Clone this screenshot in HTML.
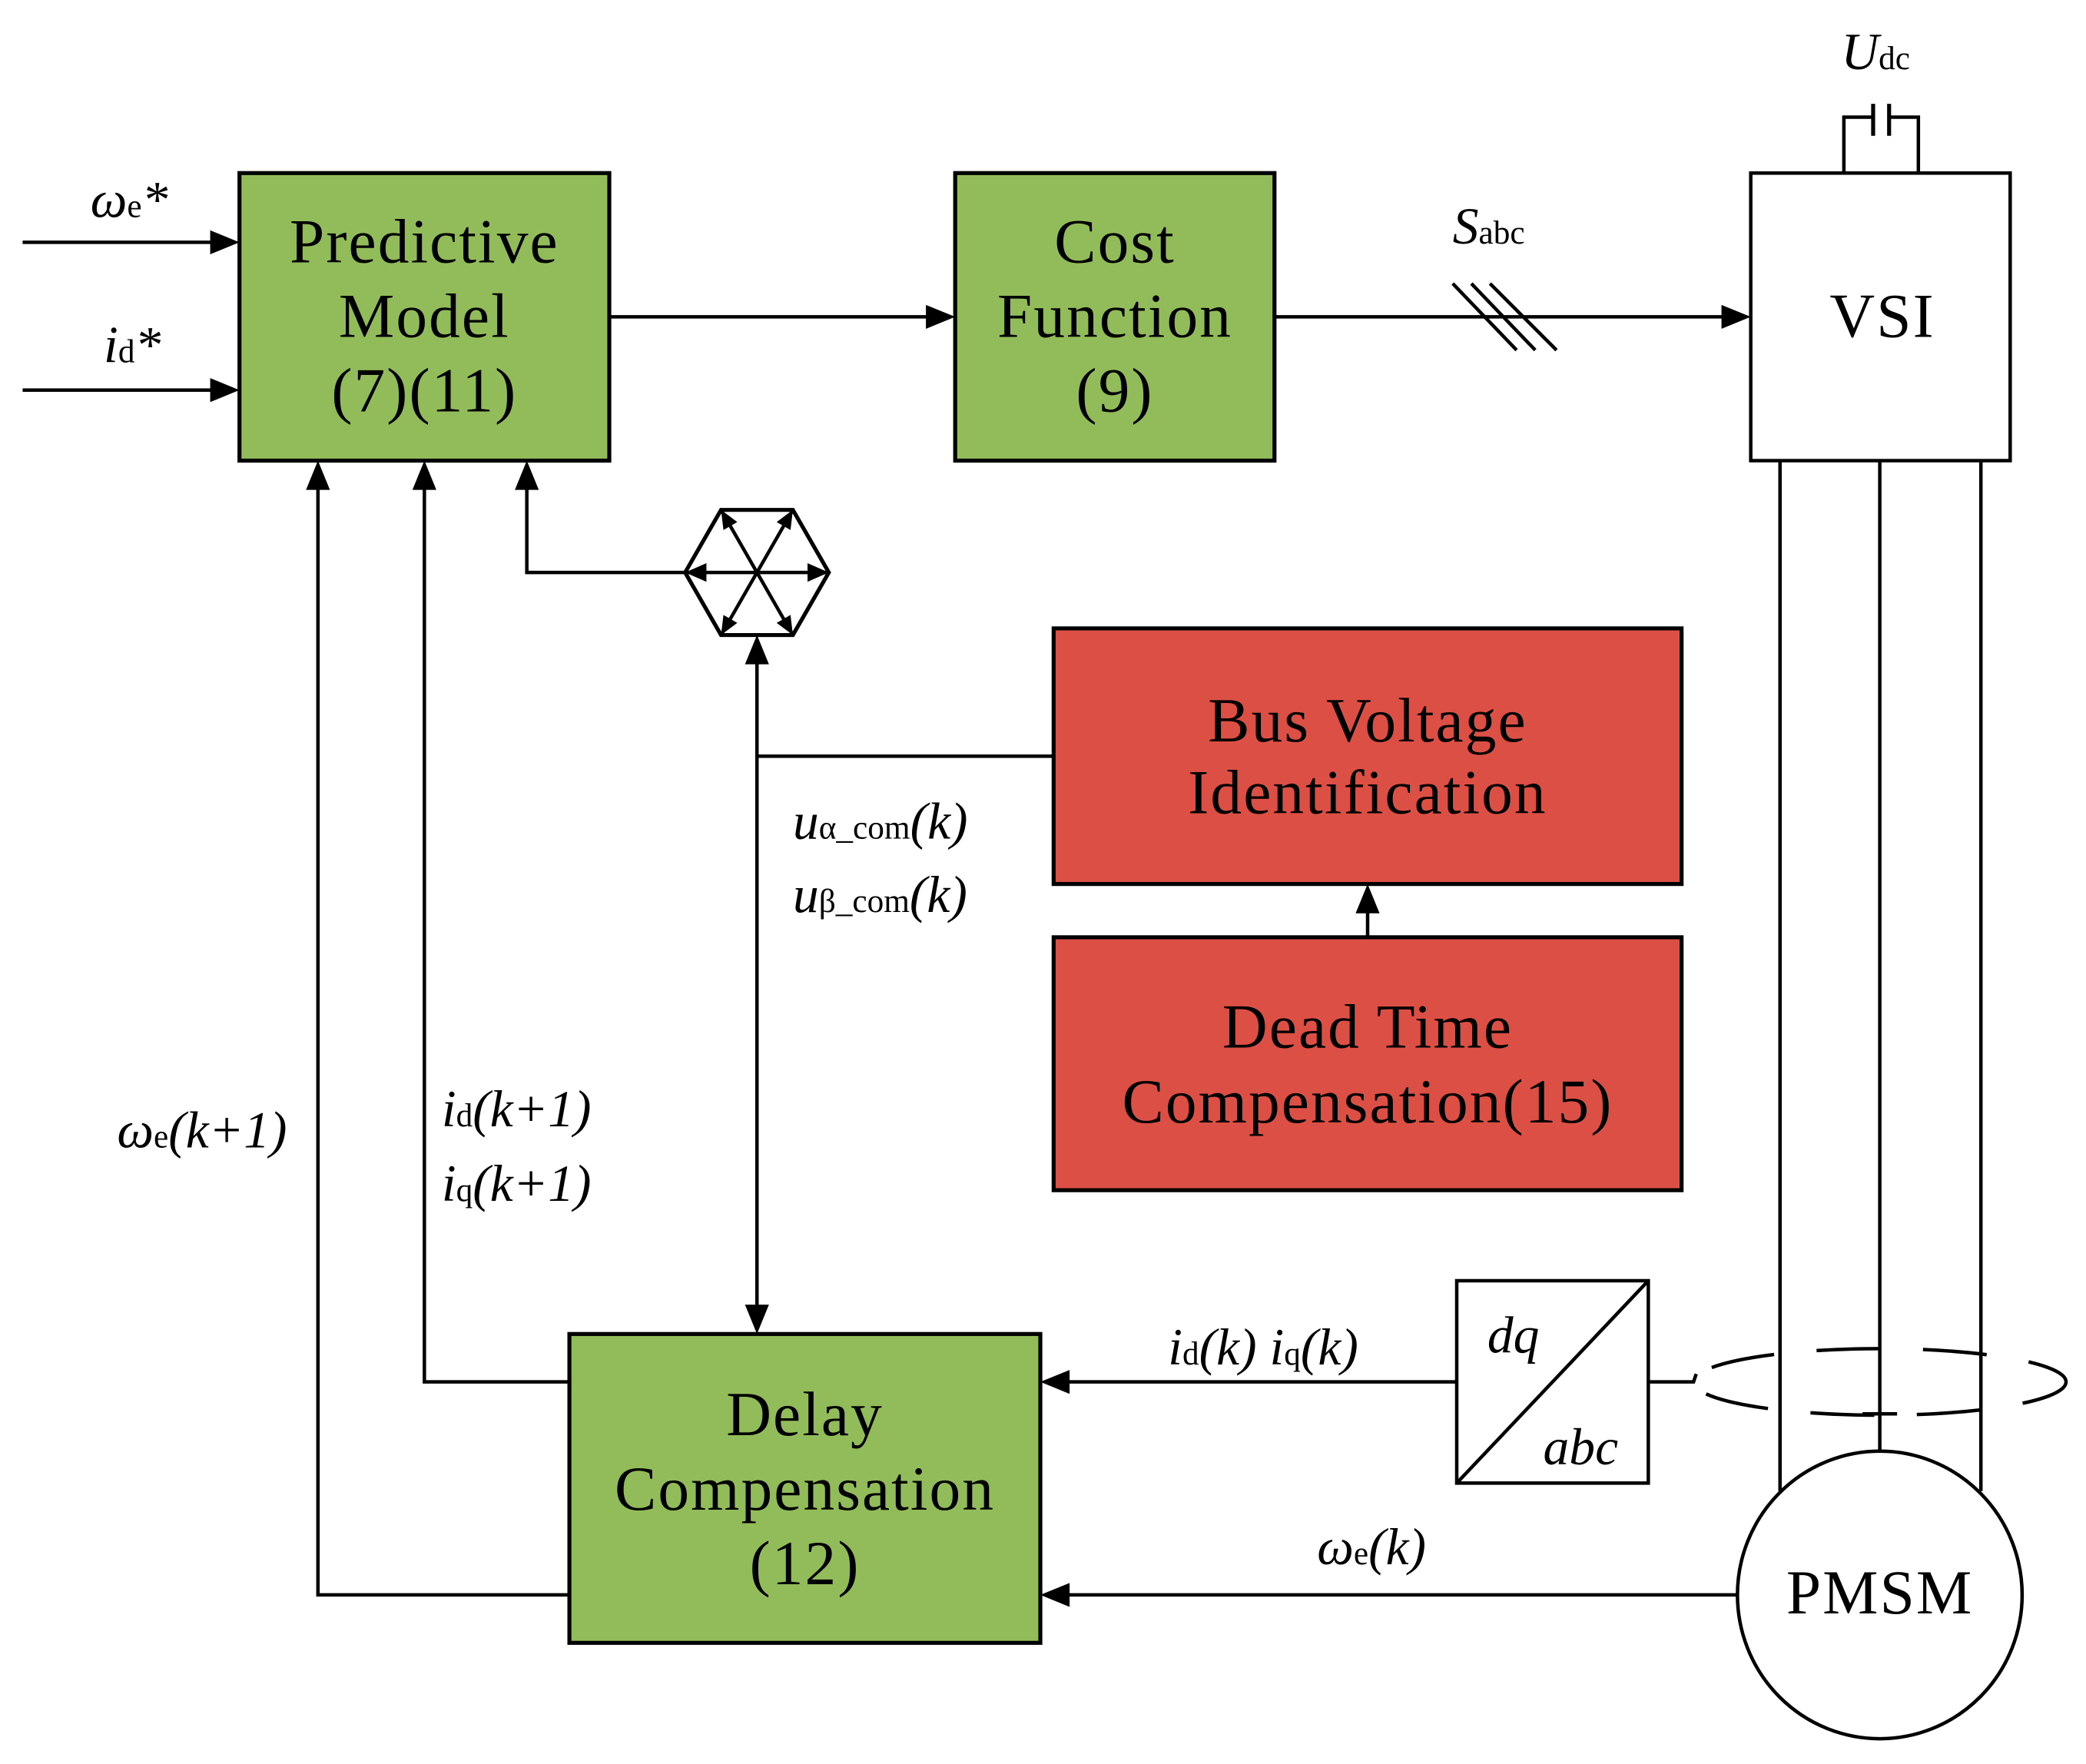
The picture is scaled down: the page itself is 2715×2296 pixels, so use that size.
<!DOCTYPE html>
<html><head><meta charset="utf-8"><style>
html,body{margin:0;padding:0;background:#fff;}
svg{display:block}
text{font-family:"Liberation Serif",serif;fill:#000}
.b{font-size:47px;text-anchor:middle;letter-spacing:1.2px}
.i{font-style:italic;font-size:39px}
.s{font-size:25px;font-style:normal}
</style></head><body>
<svg width="2715" height="2296" viewBox="0 0 1568 1325" preserveAspectRatio="none" xmlns="http://www.w3.org/2000/svg">
<g stroke="#000" stroke-width="2.6" fill="none">
<rect x="180" y="130" width="278" height="216" fill="#92bb5a" stroke-width="3"/>
<rect x="718" y="130" width="240" height="216" fill="#92bb5a" stroke-width="3"/>
<rect x="1316" y="130" width="195" height="216" fill="#fff"/>
<rect x="792" y="472" width="472" height="192" fill="#dc4f45" stroke-width="3"/>
<rect x="792" y="704" width="472" height="190" fill="#dc4f45" stroke-width="3"/>
<rect x="428" y="1002" width="354" height="232" fill="#92bb5a" stroke-width="3"/>
<rect x="1095" y="962" width="144" height="152" fill="#fff"/>
<line x1="1095" y1="1114" x2="1239" y2="962"/>
<polyline points="1386,130 1386,88 1408,88"/>
<polyline points="1442,130 1442,88 1420,88"/>
<line x1="1408" y1="78" x2="1408" y2="102" stroke-width="3"/>
<line x1="1420" y1="78" x2="1420" y2="102" stroke-width="3"/>
<line x1="17" y1="182" x2="165" y2="182"/>
<line x1="17" y1="293" x2="165" y2="293"/>
<line x1="458" y1="238" x2="700" y2="238"/>
<line x1="958" y1="238" x2="1300" y2="238"/>
<line x1="1092" y1="213" x2="1140" y2="263"/>
<line x1="1106" y1="213" x2="1154" y2="263"/>
<line x1="1120" y1="213" x2="1170" y2="263"/>
<polyline points="239,365 239,1198 428,1198"/>
<polyline points="319,365 319,1038 428,1038"/>
<polyline points="396,365 396,430 515,430"/>
<line x1="569" y1="495" x2="569" y2="985"/>
<line x1="569" y1="568" x2="792" y2="568"/>
<line x1="1028" y1="704" x2="1028" y2="682"/>
<line x1="1095" y1="1038" x2="800" y2="1038"/>
<line x1="1306" y1="1198" x2="800" y2="1198"/>
<polyline points="1239,1038 1273,1038 1275,1032"/>
<polygon points="515,430 542,383 596,383 623,430 596,477 542,477" stroke-width="3"/>
<line x1="515" y1="430" x2="623" y2="430"/>
<line x1="542" y1="383" x2="596" y2="477"/>
<line x1="596" y1="383" x2="542" y2="477"/>
<line x1="1338" y1="346" x2="1338" y2="1120"/>
<line x1="1413" y1="346" x2="1413" y2="1090"/>
<line x1="1489" y1="346" x2="1489" y2="1120"/>
<line x1="1400" y1="1062" x2="1426" y2="1062"/>
<ellipse cx="1413" cy="1198" rx="107" ry="108" fill="#fff"/>
<ellipse cx="1413" cy="1038" rx="140" ry="25" stroke-dasharray="48 32" stroke-dashoffset="10"/>
</g>
<g fill="#000">
<polygon points="180,182 158,173 158,191"/>
<polygon points="180,293 158,284 158,302"/>
<polygon points="718,238 696,229 696,247"/>
<polygon points="1316,238 1294,229 1294,247"/>
<polygon points="239,346 230,368 248,368"/>
<polygon points="319,346 310,368 328,368"/>
<polygon points="396,346 387,368 405,368"/>
<polygon points="569,477 560,499 578,499"/>
<polygon points="569,1002 560,980 578,980"/>
<polygon points="1028,664 1019,686 1037,686"/>
<polygon points="782,1038 804,1029 804,1047"/>
<polygon points="782,1198 804,1189 804,1207"/>
<polygon points="542,383 554.2,392.1 543.8,398.1"/>
<polygon points="596,383 594.2,398.1 583.8,392.1"/>
<polygon points="542,477 554.2,467.9 543.8,461.9"/>
<polygon points="596,477 594.2,461.9 583.8,467.9"/>
<polygon points="515,430 531,423 531,437"/>
<polygon points="623,430 607,423 607,437"/>
</g>
<text class="b" x="319" y="197">Predictive</text>
<text class="b" x="319" y="253">Model</text>
<text class="b" x="319" y="309">(7)(11)</text>
<text class="b" x="838" y="197">Cost</text>
<text class="b" x="838" y="253">Function</text>
<text class="b" x="838" y="309">(9)</text>
<text class="b" x="1415" y="253">VSI</text>
<text class="b" x="1028" y="557">Bus Voltage</text>
<text class="b" x="1028" y="611">Identification</text>
<text class="b" x="1028" y="787">Dead Time</text>
<text class="b" x="1028" y="843">Compensation(15)</text>
<text class="b" x="605" y="1078">Delay</text>
<text class="b" x="605" y="1134">Compensation</text>
<text class="b" x="605" y="1190">(12)</text>
<text class="b" x="1413" y="1212">PMSM</text>
<text class="i" x="1384" y="52">U<tspan class="s">dc</tspan></text>
<text class="i" x="1092" y="183">S<tspan class="s">abc</tspan></text>
<text class="i" x="68" y="163">ω<tspan class="s" font-style="italic">e</tspan>*</text>
<text class="i" x="78" y="272">i<tspan class="s" font-style="italic">d</tspan>*</text>
<text class="i" x="596" y="630">u<tspan class="s">α_com</tspan>(k)</text>
<text class="i" x="596" y="685">u<tspan class="s">β_com</tspan>(k)</text>
<text class="i" x="88" y="862">ω<tspan class="s" font-style="italic">e</tspan>(k+1)</text>
<text class="i" x="332" y="846">i<tspan class="s" font-style="italic">d</tspan>(k+1)</text>
<text class="i" x="332" y="902">i<tspan class="s" font-style="italic">q</tspan>(k+1)</text>
<text class="i" x="878" y="1025">i<tspan class="s" font-style="italic">d</tspan>(k) i<tspan class="s" font-style="italic">q</tspan>(k)</text>
<text class="i" x="990" y="1175">ω<tspan class="s" font-style="italic">e</tspan>(k)</text>
<text class="i" x="1118" y="1016">dq</text>
<text class="i" x="1160" y="1100">abc</text>
</svg>
</body></html>
